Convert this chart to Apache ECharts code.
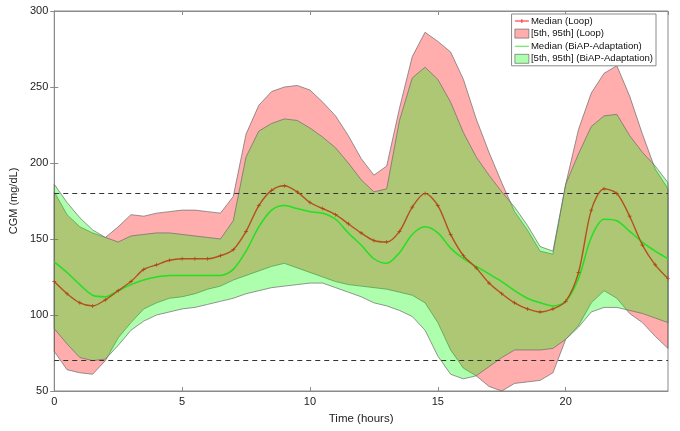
<!DOCTYPE html>
<html>
<head>
<meta charset="utf-8">
<script src="https://cdn.jsdelivr.net/npm/echarts@6/dist/echarts.min.js"></script>
<style>html,body{margin:0;padding:0;background:#fff;}#c{width:680px;height:431px;}</style>
</head>
<body>
<div id="c"></div>
<script>
const hours = [0,0.5,1,1.5,2,2.5,3,3.5,4,4.5,5,5.5,6,6.5,7,7.5,8,8.5,9,9.5,10,10.5,11,11.5,12,12.5,13,13.5,14,14.5,15,15.5,16,16.5,17,17.5,18,18.5,19,19.5,20,20.5,21,21.5,22,22.5,23,23.5,24];
const loopP95 = [181,166,158,154,151,158,166,165,167,168,169,169,168,167,178,219,238,247,250,251,248,240,231,218,203,192,198,236,270,286,280,273,255,229,207,187,168,156,142,140,186,222,246,259,264,244,219,196,183];
const loopP5  = [76,64,62,61,70,85,95,104,108,111,112,114,117,119,123,126,129,132,134,131,128,125,122,120,119,118,117,115,113,108,95,77,65,60,53,50,55,56,57,62,84,93,108,116,111,101,95,86,78];
const loopMedian = [122,114,108,106,110,116,122,130,133,136,137,137,137,139,143,155,172,182,185,181,174,170,166,160,154,149,148,155,171,180,172,153,139,131,121,114,108,104,102,104,109,128,169,183,180,165,146,133,124];
const biapP95 = [186,174,164,156,151,148,152,153,154,154,153,152,151,150,162,204,221,226,229,228,223,217,210,200,189,181,183,228,256,263,255,240,220,204,192,181,171,159,145,142,186,206,224,231,232,218,207,198,187];
const biapP5  = [91,81,72,70,71,80,90,96,100,102,104,105,107,109,111,114,116,118,119,120,121,121,118,115,112,108,106,103,99,90,73,61,58,60,66,72,77,77,77,78,84,92,102,105,105,103,101,98,95];
const biapMedian = [135,128,120,113,112,116,120,123,125,126,126,126,126,126,130,142,158,169,172,170,168,167,163,154,146,137,134,141,153,158,154,144,137,132,127,122,116,111,108,106,109,124,151,163,162,155,148,142,137];
const xTicks = [0,5,10,15,20];
const yTicks = [50,100,150,200,250,300];
const refLines = [180,70];

const pair = arr => arr.map((v,i)=>[hours[i], v]);
const plus = 'path://M-0.5,-3L0.5,-3L0.5,-0.5L3,-0.5L3,0.5L0.5,0.5L0.5,3L-0.5,3L-0.5,0.5L-3,0.5L-3,-0.5L-0.5,-0.5Z';
const lineIcon = 'path://M0,4.4L20,4.4L20,5.6L0,5.6Z';
const plusLineIcon = 'path://M0,4.4L9.4,4.4L9.4,2L10.6,2L10.6,4.4L20,4.4L20,5.6L10.6,5.6L10.6,8L9.4,8L9.4,5.6L0,5.6Z';

function band(lo, hi, fill) {
  return function (params, api) {
    if (params.dataIndex !== 0) return null;
    const pts = [];
    for (let i = 0; i < hours.length; i++) pts.push(api.coord([hours[i], hi[i]]));
    for (let i = hours.length - 1; i >= 0; i--) pts.push(api.coord([hours[i], lo[i]]));
    return {type:'polygon', shape:{points:pts}, style:{fill:fill, stroke:'#6a6a6a', lineWidth:0.7}};
  };
}

const chart = echarts.init(document.getElementById('c'), null, {renderer:'canvas'});
const font = 'Liberation Sans, Arial, Helvetica, sans-serif';
const axisCol = '#8a8a8a';
chart.setOption({
  animation:false,
  backgroundColor:'#fff',
  textStyle:{fontFamily:font},
  grid:{left:40, right:12, top:11, bottom:40, show:true, borderColor:axisCol, borderWidth:1, backgroundColor:'transparent'},
  legend:{
    orient:'vertical', right:24, top:14, itemGap:2.6, itemWidth:14, itemHeight:9,
    backgroundColor:'#fff', borderColor:axisCol, borderWidth:1, padding:[2,3,2,3],
    textStyle:{fontSize:9.6, color:'#111', fontFamily:font, padding:[0,0,0,-3]},
    data:[
      {name:'Median (Loop)', icon:plusLineIcon, itemStyle:{color:'#ff1a1a'}},
      {name:'[5th, 95th] (Loop)', icon:'rect', itemStyle:{color:'rgb(255,173,173)', borderColor:'#555', borderWidth:0.6}},
      {name:'Median (BiAP-Adaptation)', icon:lineIcon, itemStyle:{color:'#22e022'}},
      {name:'[5th, 95th] (BiAP-Adaptation)', icon:'rect', itemStyle:{color:'rgb(173,255,173)', borderColor:'#555', borderWidth:0.6}}
    ]
  },
  xAxis:[{
    type:'value', min:0, max:24, interval:5,
    name:'Time (hours)', nameLocation:'middle', nameGap:22,
    nameTextStyle:{fontSize:11.5, color:'#222'},
    axisLine:{show:true, lineStyle:{color:axisCol}},
    axisTick:{show:true, inside:true, length:4, lineStyle:{color:axisCol}},
    axisLabel:{fontSize:11, color:'#222', margin:5, showMaxLabel:false},
    splitLine:{show:false}
  },{
    type:'value', min:0, max:24, interval:5, position:'top',
    axisLine:{show:true, lineStyle:{color:axisCol}},
    axisTick:{show:true, inside:true, length:4, lineStyle:{color:axisCol}},
    axisLabel:{show:false}, splitLine:{show:false}
  }],
  yAxis:[{
    type:'value', min:50, max:300, interval:50,
    name:'CGM (mg/dL)', nameLocation:'middle', nameGap:26,
    nameTextStyle:{fontSize:11, color:'#222'},
    axisLine:{show:true, lineStyle:{color:axisCol}},
    axisTick:{show:true, inside:true, length:4, lineStyle:{color:axisCol}},
    axisLabel:{fontSize:11, color:'#222', margin:6},
    splitLine:{show:false}
  },{
    type:'value', min:50, max:300, interval:50, position:'right',
    axisLine:{show:true, lineStyle:{color:axisCol}},
    axisTick:{show:true, inside:true, length:4, lineStyle:{color:axisCol}},
    axisLabel:{show:false}, splitLine:{show:false}
  }],
  series:[
    {name:'[5th, 95th] (Loop)', type:'custom', renderItem:band(loopP5, loopP95, 'rgba(255,0,0,0.32)'),
      data:hours.map((h,i)=>[h, loopP5[i], loopP95[i]]), encode:{x:0, y:[1,2]}, silent:true, z:2},
    {name:'[5th, 95th] (BiAP-Adaptation)', type:'custom', renderItem:band(biapP5, biapP95, 'rgba(0,255,0,0.32)'),
      data:hours.map((h,i)=>[h, biapP5[i], biapP95[i]]), encode:{x:0, y:[1,2]}, silent:true, z:3},
    {name:'Median (BiAP-Adaptation)', type:'line', data:pair(biapMedian), symbol:'none', smooth:0.3, z:4,
      lineStyle:{color:'#22e022', width:1.5}, itemStyle:{color:'#22e022'},
      markLine:{silent:true, symbol:'none', label:{show:false},
        lineStyle:{color:'#333', type:[5,4], width:1},
        data: refLines.map(v=>({yAxis:v}))}},
    {name:'Median (Loop)', type:'line', data:pair(loopMedian), symbol:plus, symbolSize:4, showSymbol:true, smooth:0.3, z:5,
      lineStyle:{color:'#b4501c', width:1.4}, itemStyle:{color:'#a84510'}}
  ]
});
</script>
</body>
</html>
